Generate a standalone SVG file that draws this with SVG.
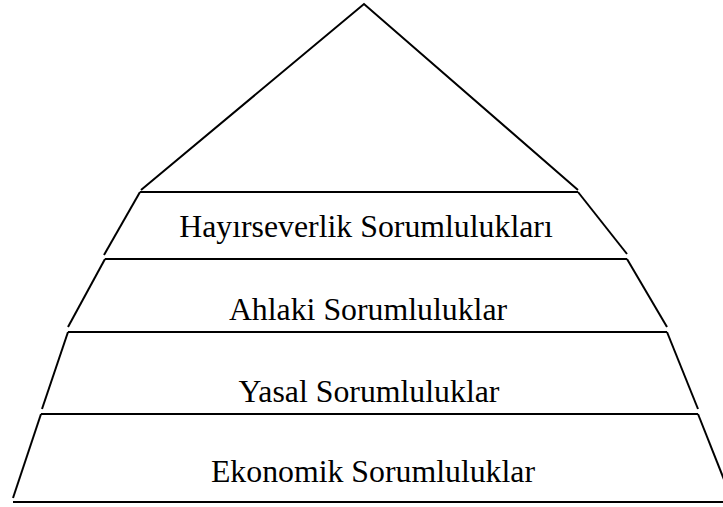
<svg xmlns="http://www.w3.org/2000/svg" width="723" height="507" viewBox="0 0 723 507">
  <style>
    .edge { fill: none; stroke: #000; stroke-width: 2; stroke-linecap: butt; }
    .label { font-family: "Liberation Serif", "Times New Roman", serif; font-size: 31.8px; fill: #000; text-anchor: middle; }
  </style>
  <rect width="723" height="507" fill="#fff"/>
  <g id="connectors">
    <!-- apex triangle -->
    <polyline class="edge" points="141,190 364,4 578,190"/>
    <!-- band separators -->
    <line class="edge" x1="140" y1="192" x2="578" y2="192"/>
    <line class="edge" x1="105" y1="259" x2="627" y2="259"/>
    <line class="edge" x1="68" y1="332" x2="667" y2="332"/>
    <line class="edge" x1="41" y1="414" x2="698" y2="414"/>
    <line class="edge" x1="13" y1="502" x2="723" y2="502"/>
    <!-- left sides -->
    <line class="edge" x1="140" y1="192" x2="104" y2="255"/>
    <line class="edge" x1="105" y1="259" x2="68" y2="327"/>
    <line class="edge" x1="68" y1="332" x2="42" y2="409"/>
    <line class="edge" x1="41" y1="414" x2="13" y2="498"/>
    <!-- right sides -->
    <line class="edge" x1="578" y1="192" x2="627" y2="254"/>
    <line class="edge" x1="627" y1="259" x2="667" y2="327"/>
    <line class="edge" x1="667" y1="332" x2="698" y2="409"/>
    <line class="edge" x1="698" y1="414" x2="727" y2="487"/>
  </g>
  <g id="hayirseverlik">
    <text class="label" x="366" y="237">Hayırseverlik Sorumlulukları</text>
  </g>
  <g id="ahlaki">
    <text class="label" x="368" y="320">Ahlaki Sorumluluklar</text>
  </g>
  <g id="yasal">
    <text class="label" x="369" y="402">Yasal Sorumluluklar</text>
  </g>
  <g id="ekonomik">
    <text class="label" x="373" y="482">Ekonomik Sorumluluklar</text>
  </g>
</svg>
